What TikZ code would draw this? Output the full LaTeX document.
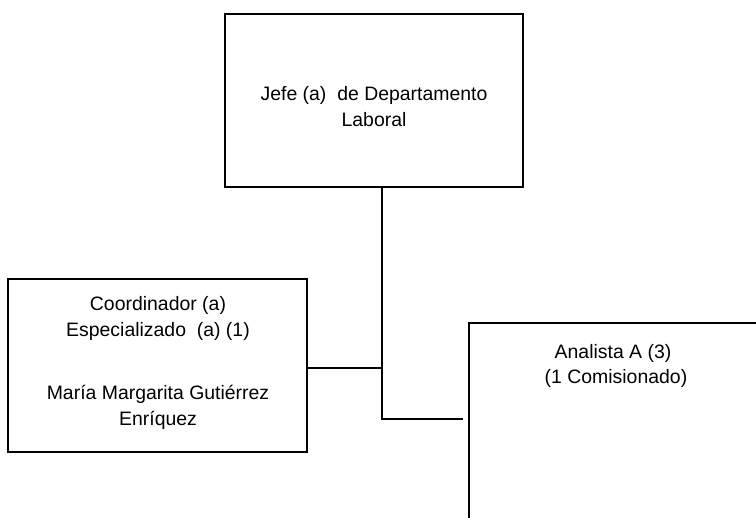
\documentclass[tikz,border=0pt]{standalone}
\usepackage{fontspec}
\setmainfont{Liberation Sans}
\begin{document}
\begin{tikzpicture}[x=1bp,y=-1bp,
  box/.style={draw, line width=1.6bp, inner sep=0pt},
  lbl/.style={font=\fontsize{19.5}{26}\selectfont, anchor=base, inner sep=0pt},
  conn/.style={line width=1.6bp}]
\useasboundingbox (0,0) rectangle (756,518);
\clip (0,0) rectangle (756,518);
% boxes
\node[box, minimum width=298bp, minimum height=173bp] (jefe) at (374,100.5) {};
\node[box, minimum width=299bp, minimum height=173bp] (coord) at (157.5,365.5) {};
\node[box, minimum width=292bp, minimum height=260bp] (anal) at (615,453) {};
% texts
\node[lbl] (t1) at (374,101) {Jefe (a)\ \ de Departamento};
\node[lbl] (t2) at (374,127) {Laboral};
\node[lbl] (t3) at (158,310.5) {Coordinador (a)};
\node[lbl] (t4) at (158,336.5) {Especializado\ \ (a) (1)};
\node[lbl] (t5) at (158,399) {María Margarita Gutiérrez};
\node[lbl] (t6) at (158,425) {Enríquez};
\node[lbl] (t7) at (613,358) {Analista A (3)};
\node[lbl] (t8) at (616,383) {(1 Comisionado)};
% connectors
\coordinate (tap) at (382,368);
\coordinate (elbow) at (382,419);
\coordinate (aend) at (463,419);
\draw[conn] (jefe.south -| elbow) -- (elbow) -- (aend);
\draw[conn] (coord.east |- tap) -- (tap);
\end{tikzpicture}
\end{document}
